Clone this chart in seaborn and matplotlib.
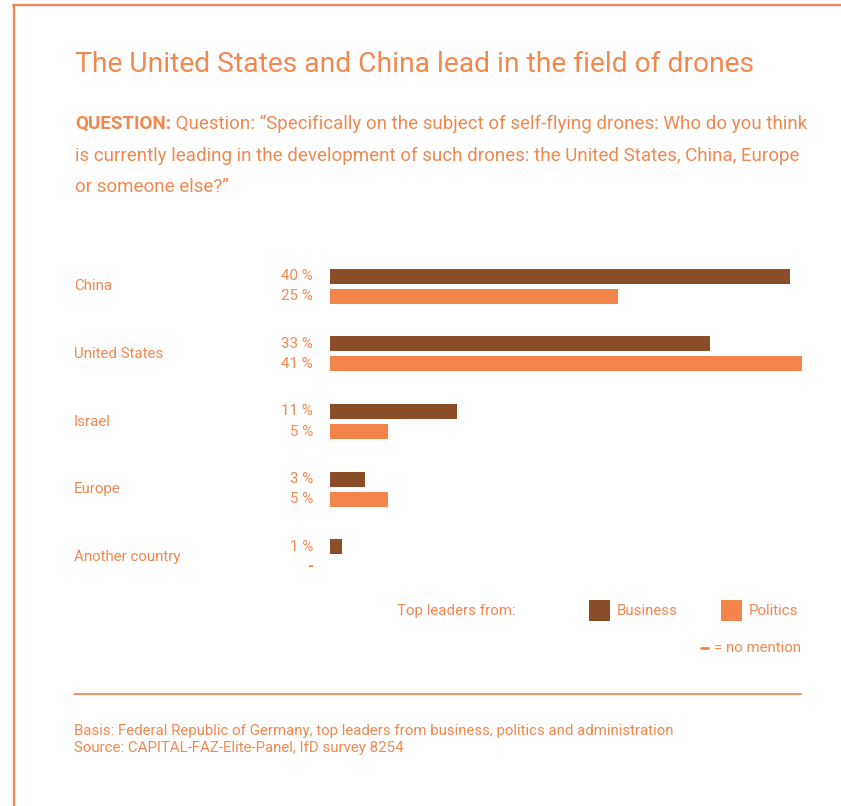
import numpy as np
import pandas as pd
import matplotlib
matplotlib.use("Agg")
import matplotlib.pyplot as plt
import matplotlib.transforms as mtransforms
from matplotlib.patches import Rectangle
from matplotlib.lines import Line2D
import seaborn as sns

# ---- data ----
countries = ["China", "United States", "Israel", "Europe", "Another country"]
business = [40, 33, 11, 3, 1]
politics = [25, 41, 5, 5, np.nan]   # NaN = no mention
groups = ["Business", "Politics"]

title = "The United States and China lead in the field of drones"
question_head = "QUESTION:"
question_lines = [
    " Question: \u201cSpecifically on the subject of self-flying drones: Who do you think",
    "is currently leading in the development of such drones: the United States, China, Europe",
    "or someone else?\u201d",
]
legend_title = "Top leaders from:"
no_mention = "= no mention"
footer = [
    "Basis: Federal Republic of Germany, top leaders from business, politics and administration",
    "Source: CAPITAL-FAZ-Elite-Panel, IfD survey 8254",
]

# ---- style ----
C_BUS = "#8A4D28"
C_POL = "#F4854A"
C_TXT = "#F2884F"
C_LINE = "#F4894F"
FS_Q = 13.5
FS_LAB = 10.9
FS_FOOT = 10.8

sns.set_theme(style="white")
plt.rcParams["font.family"] = ["Roboto", "DejaVu Sans"]

W, H = 841, 806
fig = plt.figure(figsize=(W / 100, H / 100), dpi=100)

def fx(px):
    return px / W

def fy(py):
    return 1 - py / H

# frame lines (top and left)
fig.add_artist(Line2D([fx(13), fx(841)], [fy(5), fy(5)], color=C_LINE, lw=1.6))
fig.add_artist(Line2D([fx(14), fx(14)], [fy(5), fy(806)], color=C_LINE, lw=1.6))

# title and question
fig.text(fx(75), fy(64), title, color=C_TXT, fontsize=20.3, va="center", ha="left")
t = fig.text(fx(75), fy(124), question_head, color=C_TXT, fontsize=FS_Q,
             fontweight="bold", va="center", ha="left")
fig.canvas.draw()
bb = t.get_window_extent()
fig.text(bb.x1 / W, fy(124), question_lines[0], color=C_TXT, fontsize=FS_Q,
         va="center", ha="left")
fig.text(fx(75), fy(156), question_lines[1], color=C_TXT, fontsize=FS_Q,
         va="center", ha="left")
fig.text(fx(75), fy(187), question_lines[2], color=C_TXT, fontsize=FS_Q,
         va="center", ha="left")

# ---- bars ----
df = pd.DataFrame({
    "country": countries * 2,
    "group": ["Business"] * len(countries) + ["Politics"] * len(countries),
    "value": business + politics,
})

top_px, pitch = 252.5, 67.6
ax_left, px_per_unit = 330, 11.5
ax = fig.add_axes([fx(ax_left), fy(top_px + 5 * pitch), 41 * px_per_unit / W, 5 * pitch / H])
sns.barplot(data=df.dropna(), y="country", x="value", hue="group", order=countries,
            hue_order=groups, palette=[C_BUS, C_POL], orient="h", width=0.592,
            gap=0.25, saturation=1, legend=False, ax=ax, linewidth=0)
ax.set_xlim(0, 41)
ax.set_ylim(4.5, -0.5)
ax.axis("off")

# category labels and value labels
lab_tr = mtransforms.blended_transform_factory(fig.transFigure, ax.transData)
offset = 0.592 / 4
for i, c in enumerate(countries):
    ax.text(fx(74), i, c, transform=lab_tr, color=C_TXT, fontsize=FS_LAB,
            va="center", ha="left")
    for j, vals in enumerate([business, politics]):
        v = vals[i]
        yy = i + (-offset if j == 0 else offset)
        if np.isnan(v):
            ax.text(fx(313), yy, "-", transform=lab_tr, color=C_POL, fontsize=FS_LAB,
                    fontweight="bold", va="center", ha="right")
        else:
            ax.text(fx(313), yy, f"{int(v)} %", transform=lab_tr, color=C_TXT,
                    fontsize=FS_LAB, va="center", ha="right")

# ---- legend ----
fig.text(fx(397), fy(611), legend_title, color=C_TXT, fontsize=FS_LAB, va="center", ha="left")
for x0, col, name in [(589, C_BUS, groups[0]), (721, C_POL, groups[1])]:
    fig.add_artist(Rectangle((fx(x0), fy(621)), fx(21), 21 / H, color=col, lw=0,
                             transform=fig.transFigure))
    fig.text(fx(x0 + 28), fy(611), name, color=C_TXT, fontsize=FS_LAB, va="center", ha="left")
fig.add_artist(Line2D([fx(701), fx(708)], [fy(648), fy(648)], color=C_POL, lw=2))
fig.text(fx(801), fy(648), no_mention, color=C_TXT, fontsize=FS_LAB, va="center", ha="right")

# separator and footer
fig.add_artist(Line2D([fx(74), fx(801)], [fy(694), fy(694)], color=C_LINE, lw=1.3))
fig.text(fx(74), fy(731), footer[0], color=C_TXT, fontsize=FS_FOOT, va="center", ha="left")
fig.text(fx(74), fy(748), footer[1], color=C_TXT, fontsize=FS_FOOT, va="center", ha="left")

fig.savefig("out.png", dpi=100, facecolor="white")
